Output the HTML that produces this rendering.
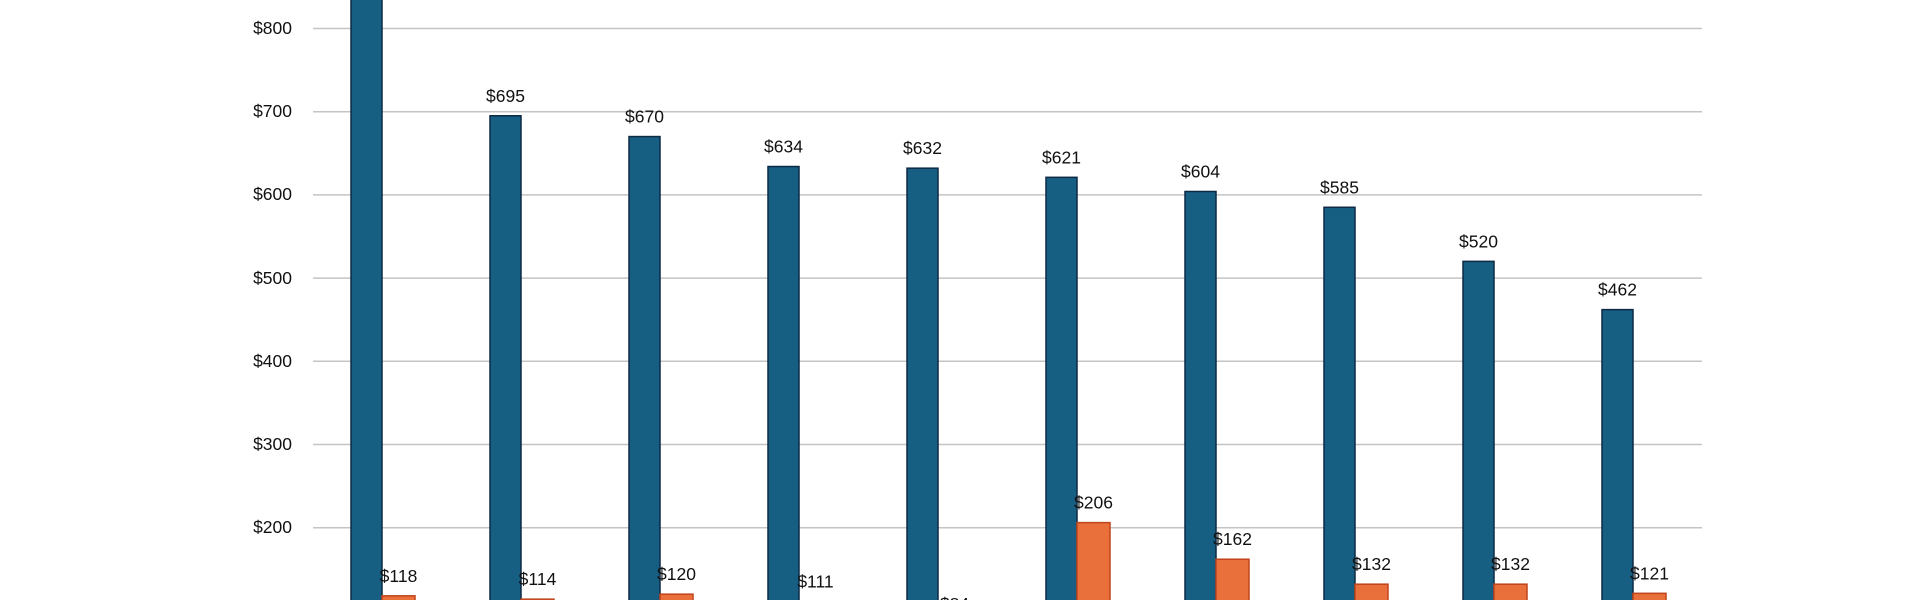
<!DOCTYPE html>
<html><head><meta charset="utf-8"><style>
html,body{margin:0;padding:0;background:#fff;width:1920px;height:600px;overflow:hidden;}
svg{display:block;}
text{font-family:"Liberation Sans",Arial,sans-serif;font-size:17.5px;fill:#111;}
</style></head><body>
<svg width="1920" height="600" viewBox="0 0 1920 600" xmlns="http://www.w3.org/2000/svg">
<g stroke="#c4c4c4" stroke-width="1.5">
<line x1="313" x2="1702" y1="28.5" y2="28.5"/>
<line x1="313" x2="1702" y1="111.7" y2="111.7"/>
<line x1="313" x2="1702" y1="194.9" y2="194.9"/>
<line x1="313" x2="1702" y1="278.1" y2="278.1"/>
<line x1="313" x2="1702" y1="361.3" y2="361.3"/>
<line x1="313" x2="1702" y1="444.5" y2="444.5"/>
<line x1="313" x2="1702" y1="527.7" y2="527.7"/>
</g>
<g text-anchor="end">
<text x="292" y="34">$800</text>
<text x="292" y="117">$700</text>
<text x="292" y="200">$600</text>
<text x="292" y="284">$500</text>
<text x="292" y="367">$400</text>
<text x="292" y="450">$300</text>
<text x="292" y="533">$200</text>
</g>
<g id="bars"></g>
<script>
var blue=[900,695,670,634,632,621,604,585,520,462];
var orange=[118,114,120,111,84,206,162,132,132,121];
var g=document.getElementById('bars');var ns='http://www.w3.org/2000/svg';
function y(v){return 694-v*0.832;}
function el(t,a,txt){var e=document.createElementNS(ns,t);for(var k in a)e.setAttribute(k,a[k]);if(txt)e.textContent=txt;g.appendChild(e);}
for(var i=0;i<10;i++){
 var x=351+i*139;
 var yb=Math.max(y(blue[i]),-5), yo=y(orange[i]);
 el('rect',{x:x,y:yb,width:31,height:Math.max(0,605-yb),fill:'#175e83',stroke:'#0d2a45','stroke-width':1.5});
 if(yo<600) el('rect',{x:x+31,y:yo,width:33,height:605-yo,fill:'#e9703a',stroke:'#c0441c','stroke-width':1.5});
 if(i>0)el('text',{x:x+15.5,y:y(blue[i])-14,'text-anchor':'middle'},'$'+blue[i]);
 el('text',{x:x+47.5,y:y(orange[i])-14,'text-anchor':'middle'},'$'+orange[i]);
}
</script>
</svg>
</body></html>
